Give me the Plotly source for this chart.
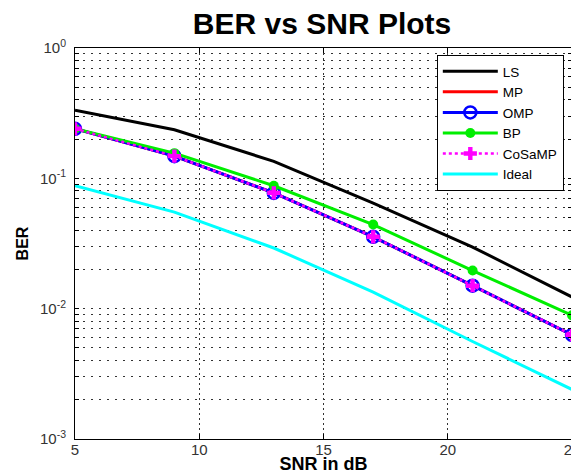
import plotly.graph_objects as go

snr = [5, 9, 13, 17, 21, 25]
ber_ls = [0.333, 0.236, 0.135, 0.0646, 0.0297, 0.0123]
ber_mp = [0.240, 0.148, 0.0773, 0.0356, 0.0150, 0.0063]
ber_omp = [0.240, 0.148, 0.0773, 0.0356, 0.0150, 0.0063]
ber_bp = [0.240, 0.156, 0.0877, 0.0442, 0.0196, 0.0089]
ber_cosamp = [0.240, 0.148, 0.0773, 0.0356, 0.0150, 0.0063]
ber_ideal = [0.0877, 0.055, 0.0292, 0.0134, 0.0056, 0.0024]

series_names = ["LS", "MP", "OMP", "BP", "CoSaMP", "Ideal"]

x_ticks = [5, 10, 15, 20, 25]
y_decades = [-3, -2, -1, 0]

# build log tick positions (decades + minor 2..9)
y_tickvals = []
y_ticktext = []
for d in y_decades:
    y_tickvals.append(10.0 ** d)
    y_ticktext.append(f"10<sup>{d}</sup>")
    if d < 0:
        for m in range(2, 10):
            y_tickvals.append(m * 10.0 ** d)
            y_ticktext.append("")

fig = go.Figure()
fig.add_trace(go.Scatter(x=snr, y=ber_ls, name=series_names[0], mode="lines",
                         line=dict(color="black", width=3)))
fig.add_trace(go.Scatter(x=snr, y=ber_mp, name=series_names[1], mode="lines",
                         line=dict(color="red", width=3)))
fig.add_trace(go.Scatter(x=snr, y=ber_omp, name=series_names[2], mode="lines+markers",
                         line=dict(color="blue", width=3),
                         marker=dict(symbol="circle-open", size=12, color="blue",
                                     line=dict(width=2.5, color="blue"))))
fig.add_trace(go.Scatter(x=snr, y=ber_bp, name=series_names[3], mode="lines+markers",
                         line=dict(color="#00ee00", width=3),
                         marker=dict(symbol="circle", size=10, color="#00ee00")))
fig.add_trace(go.Scatter(x=snr, y=ber_cosamp, name=series_names[4], mode="lines+markers",
                         line=dict(color="magenta", width=2.5, dash="dot"),
                         marker=dict(symbol="cross", size=11, color="magenta")))
fig.add_trace(go.Scatter(x=snr, y=ber_ideal, name=series_names[5], mode="lines",
                         line=dict(color="cyan", width=3)))

fig.update_layout(
    width=571, height=466,
    margin=dict(l=67, r=7, t=40, b=35, autoexpand=False),
    paper_bgcolor="white", plot_bgcolor="white",
    font=dict(family="Arial, Liberation Sans, sans-serif", size=14, color="black"),
    title=dict(text="<b>BER vs SNR Plots</b>", x=0.55, xanchor="center",
               xref="container", yref="container",
               y=0.966, yanchor="middle",
               font=dict(size=30, color="black")),
    showlegend=True,
    legend=dict(x=0.728, y=0.982, xanchor="left", yanchor="top",
                bgcolor="white", bordercolor="black", borderwidth=1,
                font=dict(size=13.5), itemwidth=55, tracegroupgap=0),
)
fig.update_xaxes(
    range=[5, 25], tickvals=x_ticks, ticktext=[str(v) for v in x_ticks],
    showgrid=True, gridcolor="#333", griddash="2px,3px", gridwidth=1,
    showline=True, linecolor="black", linewidth=1, mirror="ticks",
    ticks="inside", ticklen=5, tickcolor="black", zeroline=False,
    automargin=False, ticklabeloverflow="allow", ticklabelstandoff=-3,
    tickfont=dict(size=15, color="#333"),
    title=dict(text="<b>SNR in dB</b>", font=dict(size=18), standoff=16),
)
fig.update_yaxes(
    type="log", range=[-3, 0], tickvals=y_tickvals, ticktext=y_ticktext,
    showgrid=True, gridcolor="#333", griddash="2px,6px", gridwidth=1,
    showline=True, linecolor="black", linewidth=1, mirror="ticks",
    ticks="inside", ticklen=4, tickcolor="black", zeroline=False,
    automargin=False, ticklabeloverflow="allow", ticklabelstandoff=5,
    tickfont=dict(size=15, color="#333"),
    title=dict(text="<b>BER</b>", font=dict(size=16), standoff=7),
)

fig.write_html("out.html")
